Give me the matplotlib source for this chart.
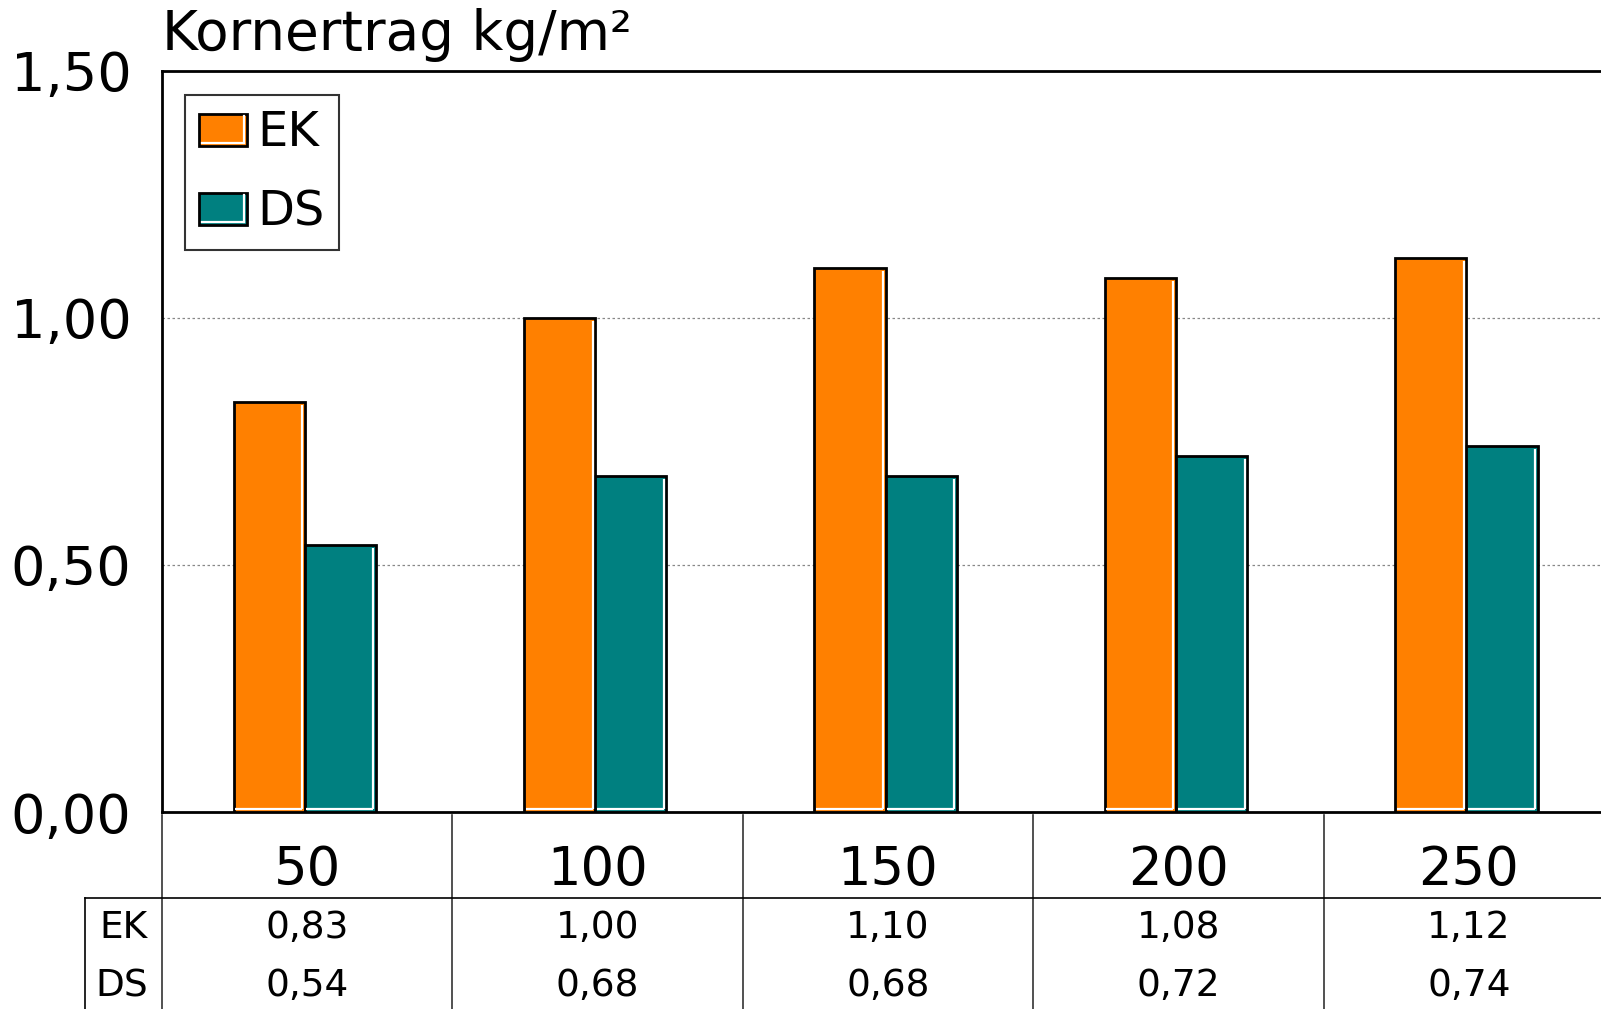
import matplotlib
matplotlib.use("Agg")
import matplotlib.pyplot as plt
from matplotlib.patches import Rectangle, Patch
from matplotlib.lines import Line2D
from matplotlib.legend_handler import HandlerBase
import numpy as np

# ---- data ----
categories = ["50", "100", "150", "200", "250"]
series_names = ["EK", "DS"]
ek_values = [0.83, 1.00, 1.10, 1.08, 1.12]
ds_values = [0.54, 0.68, 0.68, 0.72, 0.74]
ytick_values = [0.0, 0.5, 1.0, 1.5]
title_text = "Kornertrag kg/m²"

colors = {"EK": "#FF8000", "DS": "#008080"}

plt.rcParams['font.family'] = ['DejaVu Sans']

fig = plt.figure(figsize=(16.01, 10.09), dpi=100)
ax = fig.add_axes([0.1011, 0.1952, 0.907, 0.7349])

x = np.arange(len(categories))
bw = 0.245
shift = -0.008
containers = []
for i, (name, vals) in enumerate(zip(series_names, [ek_values, ds_values])):
    off = (i - 0.5) * bw + shift
    c = ax.bar(x + off, vals, bw, color=colors[name], edgecolor="black",
               linewidth=2, zorder=3, label=name)
    containers.append(c)

# white inner highlight on right and bottom of each bar
dx = 0.009
dy = 0.006
for c in containers:
    for r in c:
        x0, w, h = r.get_x(), r.get_width(), r.get_height()
        ax.plot([x0 + w - dx, x0 + w - dx], [dy, h - dy], color="white", lw=1.6, zorder=4,
                solid_capstyle="butt")
        ax.plot([x0 + dx * 0.6, x0 + w - dx], [dy, dy], color="white", lw=1.6, zorder=4,
                solid_capstyle="butt")

ax.set_xlim(-0.5, len(categories) - 0.5)
ax.set_ylim(0, 1.5)
ax.set_yticks(ytick_values)
ax.set_yticklabels([f"{v:.2f}".replace(".", ",") for v in ytick_values], fontsize=39)
ax.tick_params(axis="y", length=0, pad=22)
ax.set_xticks([])
ax.yaxis.grid(True, linestyle=(0, (2, 2)), color="#888888", linewidth=0.9, zorder=0)
ax.set_axisbelow(True)
for s in ["top", "left", "bottom", "right"]:
    ax.spines[s].set_linewidth(2)
    ax.spines[s].set_color("black")

# title
fig.text(0.1011, 1 - 50 / 1009, title_text, fontsize=39.5, ha="left", va="baseline")

# legend with custom handler
class BarHandler(HandlerBase):
    def create_artists(self, legend, orig_handle, xdescent, ydescent, width, height,
                       fontsize, trans):
        fc = orig_handle.get_facecolor()
        r = Rectangle((-xdescent, -ydescent), width, height, facecolor=fc,
                      edgecolor="black", lw=2, transform=trans)
        l1 = Line2D([-xdescent + width - 2.5, -xdescent + width - 2.5],
                    [-ydescent + 2, -ydescent + height - 2], color="white", lw=1.6,
                    transform=trans)
        l2 = Line2D([-xdescent + 2, -xdescent + width - 2.5],
                    [-ydescent + 2, -ydescent + 2], color="white", lw=1.6, transform=trans)
        return [r, l1, l2]

leg_handles = [Patch(facecolor=colors[n]) for n in series_names]
leg = ax.legend(leg_handles, series_names, loc="upper left", bbox_to_anchor=(0.016, 0.967),
                borderaxespad=0, fontsize=34.5, handlelength=1.0, handleheight=0.65,
                handletextpad=0.2, labelspacing=0.67, borderpad=0.3, fancybox=False,
                frameon=True, handler_map={Patch: BarHandler()})
leg.get_frame().set_edgecolor("black")
leg.get_frame().set_linewidth(1.5)
leg.set_zorder(10)

# data table below the axes
tr = ax.get_xaxis_transform()
ax_h = 741.5
def yfrac(py):
    return -(py - 812) / ax_h

for xi, cat in zip(x, categories):
    ax.text(xi, yfrac(870), cat, transform=tr, ha="center", va="center", fontsize=38,
            clip_on=False)
for row_name, vals, py in [("EK", ek_values, 928), ("DS", ds_values, 986)]:
    ax.text(-0.5475, yfrac(py), row_name, transform=tr, ha="right", va="center",
            fontsize=27, clip_on=False)
    for xi, v in zip(x, vals):
        ax.text(xi, yfrac(py), f"{v:.2f}".replace(".", ","), transform=tr, ha="center",
                va="center", fontsize=27, clip_on=False)

# table lines
for b in np.arange(len(categories) + 1) - 0.5:
    ax.plot([b, b], [yfrac(815), yfrac(1012)], transform=tr, color="#333333", lw=1.2,
            clip_on=False)
ax.plot([-0.7645, len(categories)], [yfrac(898), yfrac(898)], transform=tr, color="black",
        lw=1.2, clip_on=False)
ax.plot([-0.7645, -0.7645], [yfrac(898), yfrac(1012)], transform=tr, color="black",
        lw=1.2, clip_on=False)

fig.savefig("out.png", dpi=100)
